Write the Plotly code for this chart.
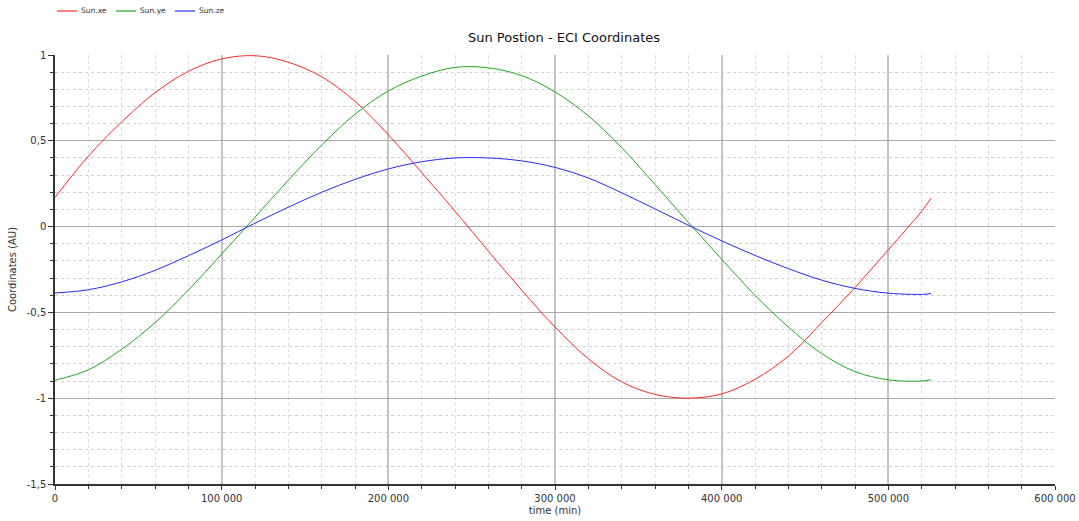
import plotly.graph_objects as go

time_min = [0, 20000, 40000, 60000, 80000, 100000, 120000, 140000, 160000, 180000,
            200000, 220000, 240000, 260000, 280000, 300000, 320000, 340000, 360000,
            380000, 400000, 420000, 440000, 460000, 480000, 500000, 520000, 525600]

sun_xe = [0.17, 0.41, 0.61, 0.78, 0.905, 0.977, 0.996, 0.958, 0.873, 0.73, 0.535, 0.315,
          0.09, -0.143, -0.37, -0.585, -0.77, -0.905, -0.978, -1.0, -0.975, -0.89,
          -0.755, -0.56, -0.355, -0.135, 0.09, 0.165]

sun_ye = [-0.895, -0.835, -0.715, -0.56, -0.37, -0.16, 0.055, 0.27, 0.475, 0.655,
          0.79, 0.877, 0.928, 0.925, 0.88, 0.785, 0.645, 0.46, 0.245, 0.025, -0.19,
          -0.40, -0.585, -0.74, -0.845, -0.893, -0.90, -0.893]

sun_ze = [-0.387, -0.368, -0.322, -0.255, -0.17, -0.078, 0.02, 0.113, 0.2, 0.275,
          0.336, 0.378, 0.40, 0.40, 0.383, 0.345, 0.283, 0.197, 0.103, 0.008, -0.083,
          -0.168, -0.245, -0.312, -0.36, -0.388, -0.395, -0.39]

x_tick_vals = [0, 100000, 200000, 300000, 400000, 500000, 600000]
x_tick_text = ["0", "100 000", "200 000", "300 000", "400 000", "500 000", "600 000"]
y_tick_vals = [1, 0.5, 0, -0.5, -1, -1.5]
y_tick_text = ["1", "0,5", "0", "-0,5", "-1", "-1,5"]

series = [("Sun.xe", sun_xe, "rgb(255,40,40)"),
          ("Sun.ye", sun_ye, "rgb(30,170,30)"),
          ("Sun.ze", sun_ze, "rgb(40,40,255)")]

W, H = 1079, 521
ML, MR, MT, MB = 55, 24, 55, 37
PW, PH = W - ML - MR, H - MT - MB


def px_to_paper_x(px):
    return (px - ML) / PW


def px_to_paper_y(py):
    return (H - MB - py) / PH


fig = go.Figure()
for name, vals, col in series:
    fig.add_trace(go.Scatter(x=time_min, y=vals, name=name, mode="lines", showlegend=False,
                             line=dict(color=col, width=1, shape="spline", smoothing=1.0)))

# legend row drawn as line swatches + labels above the plot
legend_y = px_to_paper_y(11)
for i, (name, _, col) in enumerate(series):
    x0 = 57 + 59 * i
    fig.add_shape(type="line", xref="paper", yref="paper",
                  x0=px_to_paper_x(x0), x1=px_to_paper_x(x0 + 20),
                  y0=legend_y, y1=legend_y, line=dict(color=col, width=1.2))
    fig.add_annotation(xref="paper", yref="paper", x=px_to_paper_x(x0 + 22), y=legend_y,
                       xanchor="left", yanchor="middle", text=name, showarrow=False,
                       font=dict(size=7.5, color="#333"))

font_family = "DejaVu Sans, Verdana, sans-serif"
fig.update_layout(
    width=W, height=H,
    margin=dict(l=ML, r=MR, t=MT, b=MB, autoexpand=False),
    paper_bgcolor="white", plot_bgcolor="white",
    font=dict(family=font_family, size=10, color="#222"),
    title=dict(text="Sun Postion - ECI Coordinates", x=564 / W, xanchor="center",
               y=1 - 37 / H, yanchor="middle",
               font=dict(family=font_family, size=13, color="#111")),
    showlegend=False,
)
fig.update_xaxes(
    range=[0, 600000], tickmode="array", tickvals=x_tick_vals, ticktext=x_tick_text,
    automargin=False,
    showline=True, linecolor="#333", linewidth=1.5,
    showgrid=True, gridcolor="#c4c4c4", gridwidth=1.5, zeroline=False,
    ticks="outside", ticklen=4, tickcolor="#333",
    tickfont=dict(size=10, color="#333"),
    title=dict(text="time (min)", font=dict(size=10, color="#333"), standoff=4),
    minor=dict(dtick=20000, tick0=0, showgrid=True, gridcolor="#dcdcdc",
               griddash="dot", gridwidth=1, ticks="outside", ticklen=3, tickcolor="#333"),
)
fig.update_yaxes(
    range=[-1.5, 1], tickmode="array", tickvals=y_tick_vals, ticktext=y_tick_text,
    automargin=False,
    showline=True, linecolor="#333", linewidth=1.5,
    showgrid=True, gridcolor="#aaaaaa", gridwidth=1, zeroline=False,
    ticks="outside", ticklen=5, tickcolor="#333",
    tickfont=dict(size=10, color="#333"),
    title=dict(text="Coordinates (AU)", font=dict(size=10, color="#333"), standoff=8),
    minor=dict(dtick=0.1, tick0=0, showgrid=True, gridcolor="#d0d0d0",
               griddash="dot", gridwidth=1, ticks="outside", ticklen=3, tickcolor="#333"),
)

fig.write_html("out.html")
